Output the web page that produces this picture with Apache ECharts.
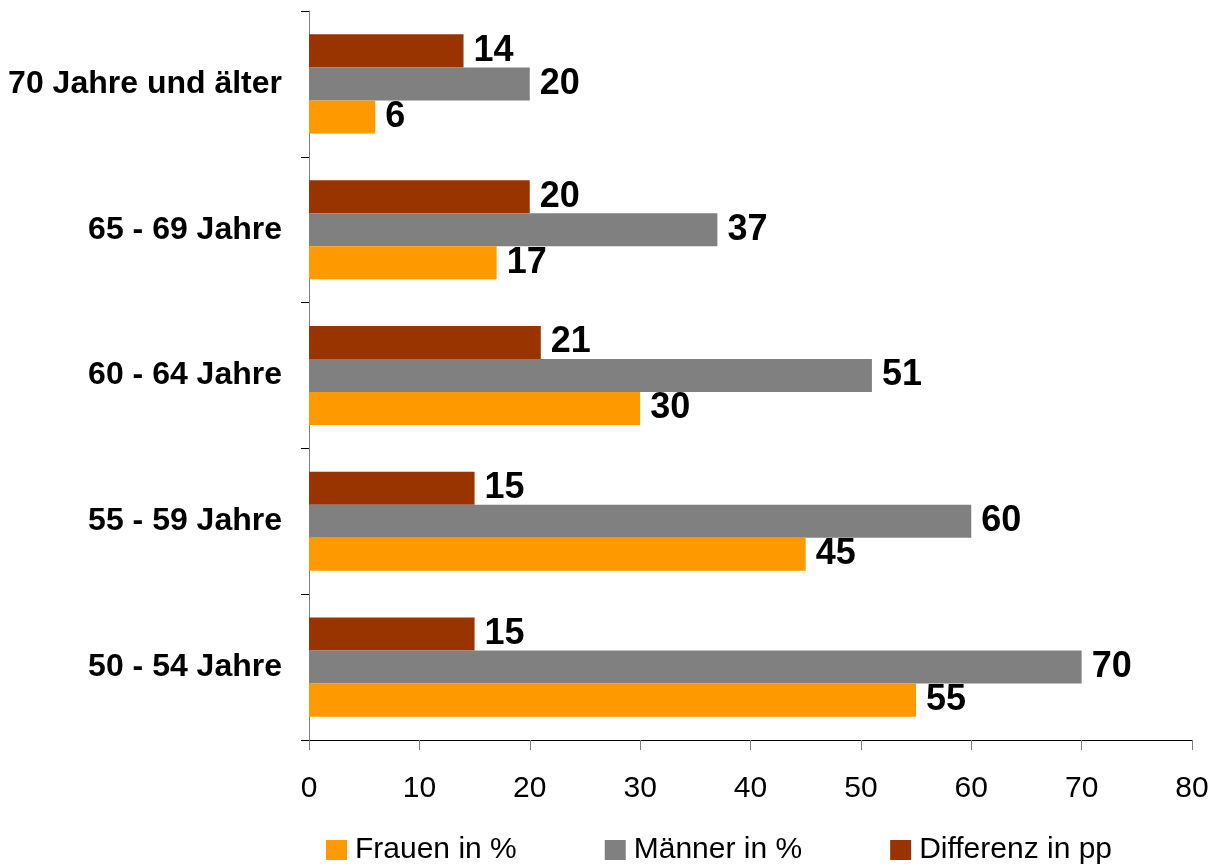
<!DOCTYPE html>
<html>
<head>
<meta charset="utf-8">
<script src="https://cdn.jsdelivr.net/npm/echarts@6/dist/echarts.min.js"></script>
<style>
html,body{margin:0;padding:0;background:#fff;}
#chart{width:1223px;height:864px;}
</style>
</head>
<body>
<div id="chart"></div>
<script>
const categories = ['50 - 54 Jahre', '55 - 59 Jahre', '60 - 64 Jahre', '65 - 69 Jahre', '70 Jahre und älter'];
const frauen = [55, 45, 30, 17, 6];
const maenner = [70, 60, 51, 37, 20];
const differenz = [15, 15, 21, 20, 14];
const xTicks = [0, 10, 20, 30, 40, 50, 60, 70, 80];

const FONT = '"Liberation Sans", Arial, sans-serif';
const chart = echarts.init(document.getElementById('chart'), null, {renderer: 'canvas'});

const labelStyle = {
  show: true, position: 'right', distance: 10,
  fontFamily: FONT, fontWeight: 'bold', fontSize: 36, color: '#000'
};

chart.setOption({
  animation: false,
  backgroundColor: '#fff',
  grid: {left: 309, right: 31, top: 11, bottom: 124, containLabel: false},
  legend: {
    left: 321, top: 830,
    itemWidth: 21, itemHeight: 20, itemGap: 88,
    icon: 'rect',
    textStyle: {fontFamily: FONT, fontSize: 30, color: '#000', padding: [0, 0, 9, 3]},
    data: ['Frauen in %', 'Männer in %', 'Differenz in pp']
  },
  xAxis: {
    type: 'value', min: xTicks[0], max: xTicks[xTicks.length - 1], interval: 10,
    axisLine: {show: true, lineStyle: {color: '#000', width: 1}},
    axisTick: {show: true, length: 10, lineStyle: {color: '#808080'}},
    splitLine: {show: false},
    axisLabel: {margin: 34, fontFamily: FONT, fontSize: 30, color: '#000'}
  },
  yAxis: {
    type: 'category', data: categories,
    axisLine: {show: true, lineStyle: {color: '#808080', width: 1}},
    axisTick: {show: true, length: 8, lineStyle: {color: '#000'}},
    axisLabel: {margin: 27, fontFamily: FONT, fontWeight: 'bold', fontSize: 32, color: '#000'}
  },
  series: [
    {name: 'Differenz in pp', type: 'bar', data: differenz, itemStyle: {color: '#993300'},
     barGap: '0%', barCategoryGap: '32%', label: labelStyle},
    {name: 'Männer in %', type: 'bar', data: maenner, itemStyle: {color: '#808080'},
     barGap: '0%', barCategoryGap: '32%', label: labelStyle},
    {name: 'Frauen in %', type: 'bar', data: frauen, itemStyle: {color: '#FF9900'},
     barGap: '0%', barCategoryGap: '32%', label: labelStyle}
  ]
});
</script>
</body>
</html>
